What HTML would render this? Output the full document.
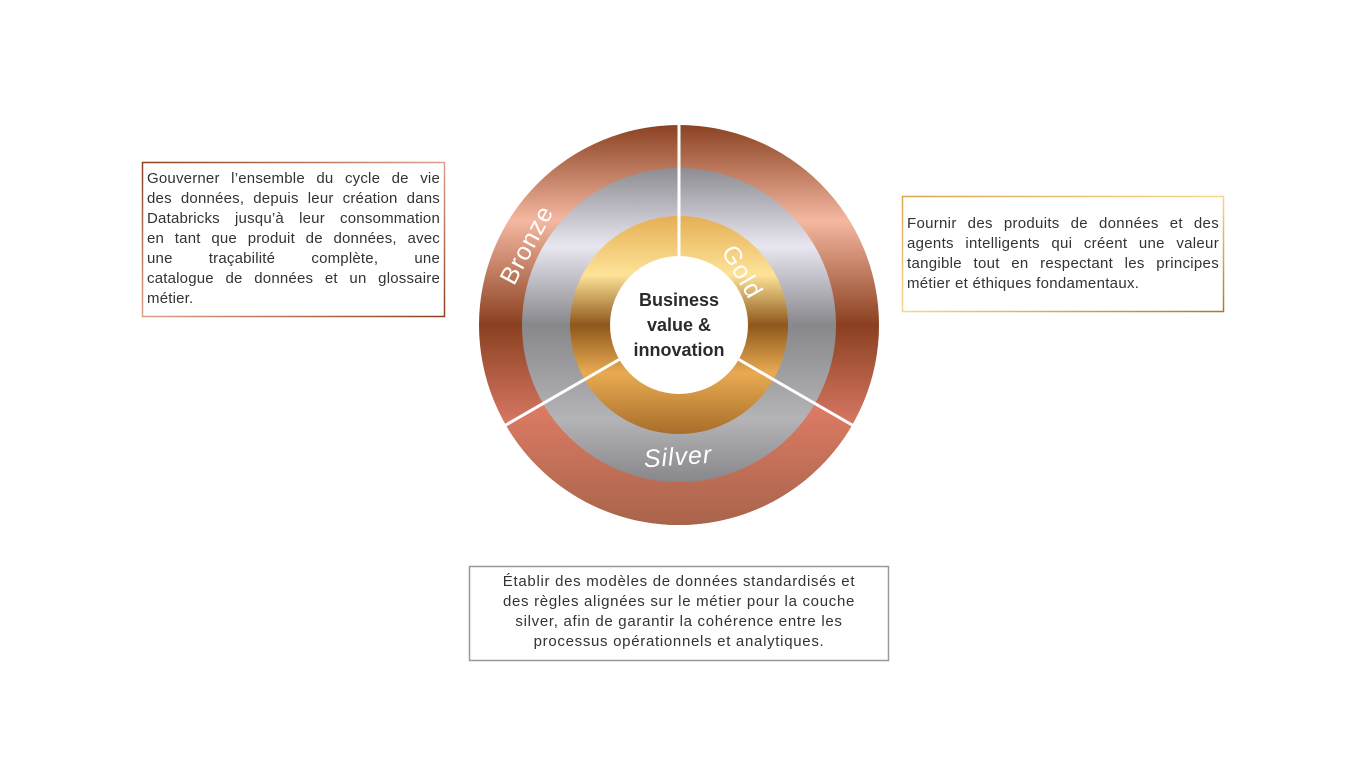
<!DOCTYPE html>
<html><head><meta charset="utf-8"><style>
body{margin:0;width:1366px;height:768px;background:#fff;position:relative;overflow:hidden;font-family:"Liberation Sans",sans-serif;color:#333}
.box{position:absolute;box-sizing:border-box;font-size:15px;line-height:20px;color:#333;letter-spacing:0.7px}
.j div{text-align:justify;text-align-last:justify;white-space:nowrap}
.j div.l{text-align-last:left}
.c div{text-align:center;white-space:nowrap}
</style></head><body>
<svg width="1366" height="768" style="position:absolute;left:0;top:0">
<defs>
<linearGradient id="br" x1="0" y1="125" x2="0" y2="525" gradientUnits="userSpaceOnUse">
<stop offset="0" stop-color="#8a4222"/><stop offset="0.24" stop-color="#f4b7a0"/><stop offset="0.5" stop-color="#8a4020"/><stop offset="0.75" stop-color="#d87864"/><stop offset="1" stop-color="#a8644a"/></linearGradient>
<linearGradient id="br2" x1="0" y1="400" x2="0" y2="525" gradientUnits="userSpaceOnUse">
<stop offset="0" stop-color="#e07c66"/><stop offset="1" stop-color="#a8644a"/></linearGradient>
<linearGradient id="sv" x1="0" y1="168" x2="0" y2="482" gradientUnits="userSpaceOnUse">
<stop offset="0" stop-color="#8c8c92"/><stop offset="0.25" stop-color="#e8e6f0"/><stop offset="0.5" stop-color="#88888c"/><stop offset="0.8" stop-color="#b4b4b6"/><stop offset="1" stop-color="#88888c"/></linearGradient>
<linearGradient id="gd" x1="0" y1="216" x2="0" y2="434" gradientUnits="userSpaceOnUse">
<stop offset="0" stop-color="#e6ae55"/><stop offset="0.27" stop-color="#fde398"/><stop offset="0.5" stop-color="#8e581c"/><stop offset="0.72" stop-color="#e8aa52"/><stop offset="1" stop-color="#a86e2a"/></linearGradient>
<linearGradient id="bb" x1="0" y1="0" x2="1" y2="1"><stop offset="0" stop-color="#8a4222"/><stop offset="0.5" stop-color="#e0a088"/><stop offset="1" stop-color="#8a4222"/></linearGradient>
<linearGradient id="gb" x1="0" y1="0" x2="1" y2="1"><stop offset="0" stop-color="#d8a850"/><stop offset="0.5" stop-color="#f5d890"/><stop offset="1" stop-color="#a87a30"/></linearGradient>
</defs>
<circle cx="679" cy="325" r="200" fill="url(#br)"/>
<path d="M505.8 425 A200 200 0 0 0 852.2 425 L679 325 Z" fill="url(#br2)"/>
<circle cx="679" cy="325" r="157" fill="url(#sv)"/>
<circle cx="679" cy="325" r="109" fill="url(#gd)"/>
<circle cx="679" cy="325" r="69" fill="#fff"/>
<g stroke="#fff" stroke-width="3">
<line x1="679" y1="256" x2="679" y2="124"/>
<line x1="619.2" y1="359.5" x2="505" y2="425.5"/>
<line x1="738.8" y1="359.5" x2="853" y2="425.5"/>
</g>
<g fill="#fff" font-family="Liberation Sans,sans-serif" font-size="25" text-anchor="middle" letter-spacing="1">
<text x="527" y="253" transform="rotate(-62 527 245)">Bronze</text>
<text x="742" y="280" transform="rotate(60 742 272)">Gold</text>
<text x="678" y="465" transform="rotate(-4 678 457)" font-style="italic">Silver</text>
</g>
<g fill="#2b2b2b" font-family="Liberation Sans,sans-serif" font-size="18" font-weight="bold" text-anchor="middle">
<text x="679" y="306">Business</text><text x="679" y="331">value &amp;</text><text x="679" y="356">innovation</text>
</g>
<rect x="142.5" y="162.5" width="302" height="154" fill="none" stroke="url(#bb)" stroke-width="1.5"/>
<rect x="902.5" y="196.5" width="321" height="115" fill="none" stroke="url(#gb)" stroke-width="1.5"/>
<rect x="469.5" y="566.5" width="419" height="94" fill="none" stroke="#999" stroke-width="1.5"/>
</svg>
<div class="box j" style="left:147px;top:169px;width:293px;letter-spacing:0.2px">
<div>Gouverner l’ensemble du cycle de vie</div>
<div>des données, depuis leur création dans</div>
<div>Databricks jusqu’à leur consommation</div>
<div>en tant que produit de données, avec</div>
<div>une traçabilité complète, une</div>
<div>catalogue de données et un glossaire</div>
<div class="l">métier.</div>
</div>
<div class="box j" style="left:907px;top:214px;width:312px;letter-spacing:0.3px">
<div>Fournir des produits de données et des</div>
<div>agents intelligents qui créent une valeur</div>
<div>tangible tout en respectant les principes</div>
<div class="l">métier et éthiques fondamentaux.</div>
</div>
<div class="box c" style="left:470px;top:572px;width:418px">
<div>Établir des modèles de données standardisés et</div>
<div>des règles alignées sur le métier pour la couche</div>
<div>silver, afin de garantir la cohérence entre les</div>
<div>processus opérationnels et analytiques.</div>
</div>
</body></html>
